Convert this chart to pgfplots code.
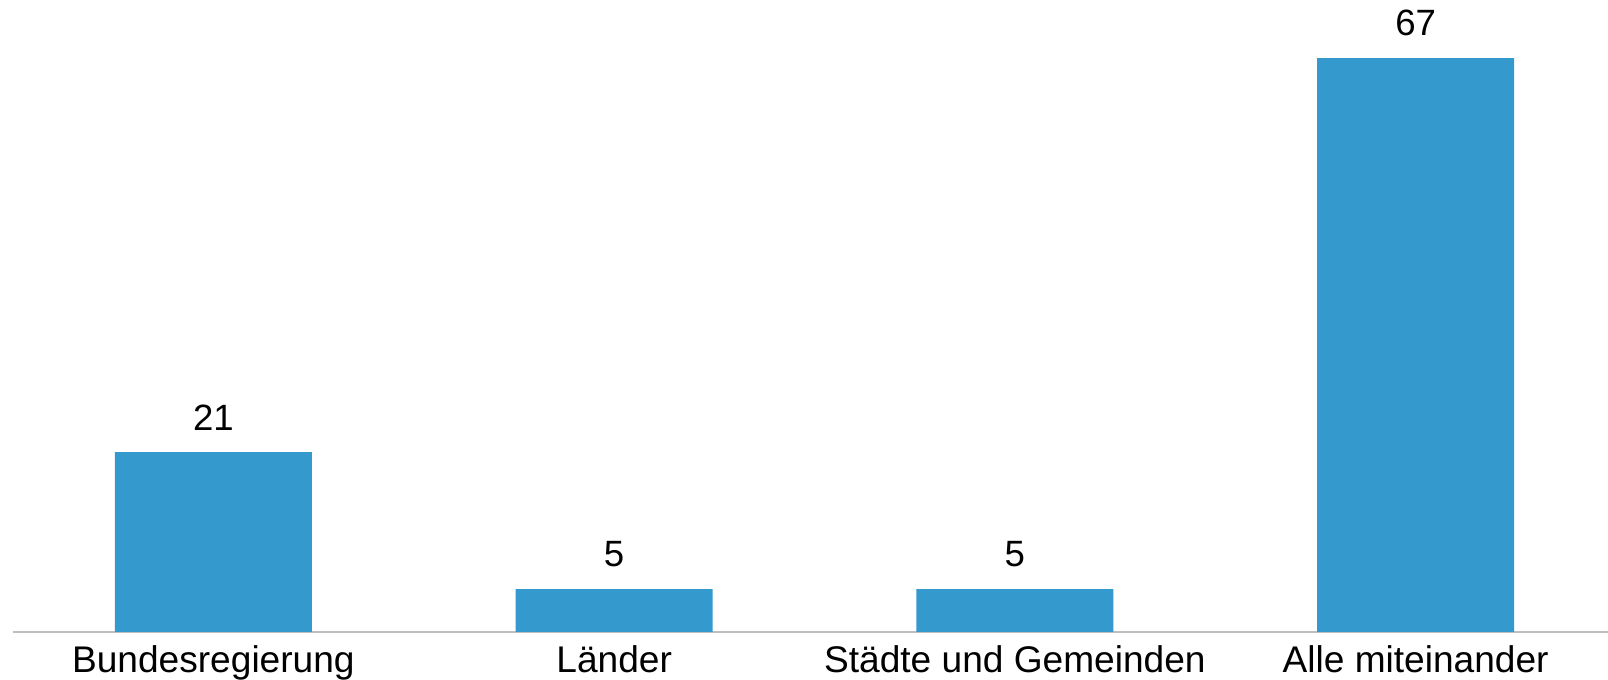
\documentclass[border=0pt]{standalone}
\usepackage{fontspec}
\setmainfont{Liberation Sans}
\usepackage{pgfplots}
\pgfplotsset{compat=1.18}
\definecolor{barblue}{HTML}{3499CC}
\definecolor{axisgray}{HTML}{BFBFBF}
\begin{document}
\begin{tikzpicture}
\begin{axis}[
  scale only axis,
  width=797.5pt, height=316pt,
  xmin=-0.5, xmax=3.48, ymin=0, ymax=73.8,
  axis x line=bottom, axis y line=none,
  x axis line style={-, draw=axisgray, line width=1pt},
  xtick=data,
  xticklabels={Bundesregierung, Länder, Städte und Gemeinden, Alle miteinander},
  major tick length=0pt,
  xticklabel style={anchor=north, inner sep=0pt, yshift=-6.7pt, font=\fontsize{18.55}{22}\selectfont},
  ybar, bar width=98.5pt,
  nodes near coords,
  /pgf/number format/assume math mode=true,
  nodes near coords style={anchor=south, inner sep=0pt, yshift=10.8pt, font=\fontsize{18.3}{22}\selectfont, text=black},
  clip=false,
]
\addplot[fill=barblue, draw=none] coordinates {(0,21) (1,5) (2,5) (3,67)};
\coordinate (bl) at (rel axis cs:0,0);
\coordinate (tr) at (rel axis cs:1,1);
\end{axis}
\pgfresetboundingbox
\path ([xshift=-6.5pt,yshift=-24pt]bl) rectangle (tr);
\end{tikzpicture}
\end{document}
